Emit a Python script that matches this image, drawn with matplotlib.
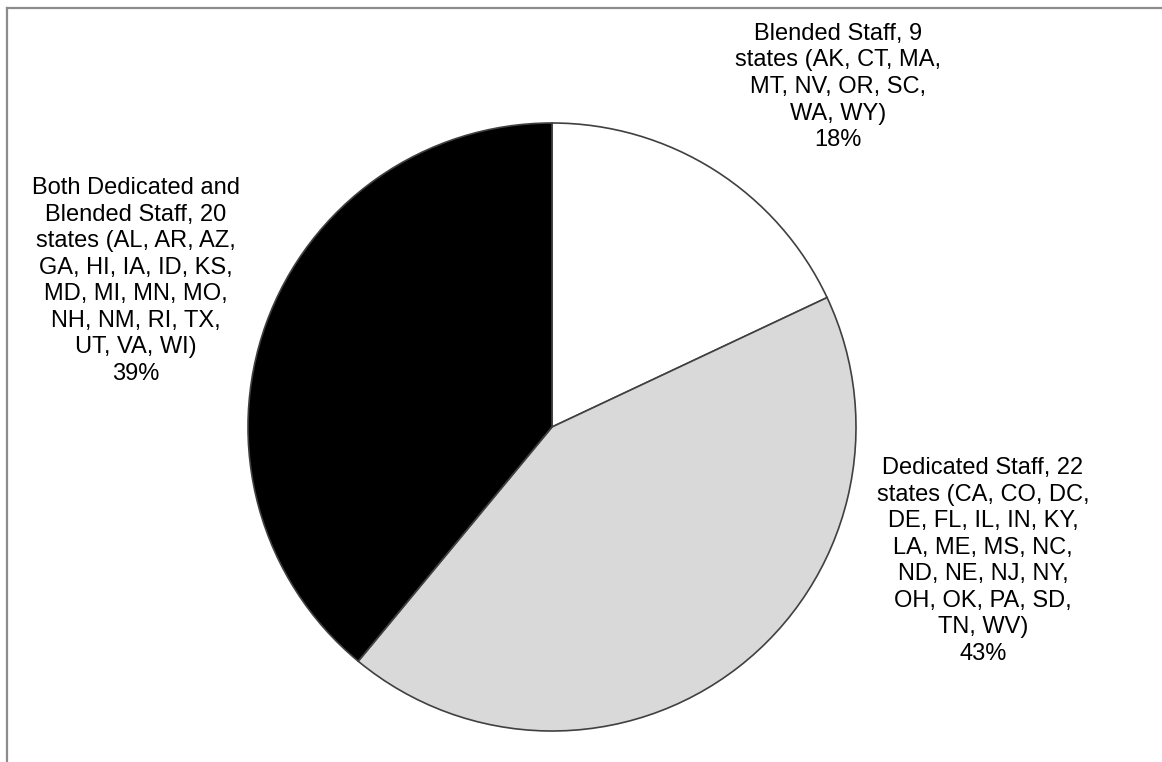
import matplotlib.pyplot as plt

# Data
categories = ["Blended Staff", "Dedicated Staff", "Both Dedicated and\nBlended Staff"]
state_counts = [9, 22, 20]
shares = [18, 43, 39]
label_texts = [
    "Blended Staff, 9\nstates (AK, CT, MA,\nMT, NV, OR, SC,\nWA, WY)\n18%",
    "Dedicated Staff, 22\nstates (CA, CO, DC,\nDE, FL, IL, IN, KY,\nLA, ME, MS, NC,\nND, NE, NJ, NY,\nOH, OK, PA, SD,\nTN, WV)\n43%",
    "Both Dedicated and\nBlended Staff, 20\nstates (AL, AR, AZ,\nGA, HI, IA, ID, KS,\nMD, MI, MN, MO,\nNH, NM, RI, TX,\nUT, VA, WI)\n39%",
]
colors = ["#ffffff", "#d9d9d9", "#000000"]

W, H = 1162, 762
fig = plt.figure(figsize=(W / 100, H / 100), dpi=100)
ax = fig.add_axes([0, 0, 1, 1])

ax.pie(
    shares,
    colors=colors,
    startangle=90,
    counterclock=False,
    center=(552, H - 427),
    radius=304,
    frame=True,
    wedgeprops={"edgecolor": "#404040", "linewidth": 1.2},
)
ax.set_xlim(0, W)
ax.set_ylim(0, H)
ax.axis("off")

# label positions (pixel coords, top-origin)
label_pos = [(838, 87), (983, 561), (136, 281)]
for txt, (x, y) in zip(label_texts, label_pos):
    ax.text(x, H - y, txt, ha="center", va="center", fontsize=17,
            family="Liberation Sans", linespacing=1.27, color="#000000")

# chart area border (left and top)
ax.plot([7, 7], [H - 8, -10], color="#8c8c8c", linewidth=1.6, clip_on=False)
ax.plot([7, W + 10], [H - 8, H - 8], color="#8c8c8c", linewidth=1.6, clip_on=False)

fig.savefig("out.png", dpi=100)
